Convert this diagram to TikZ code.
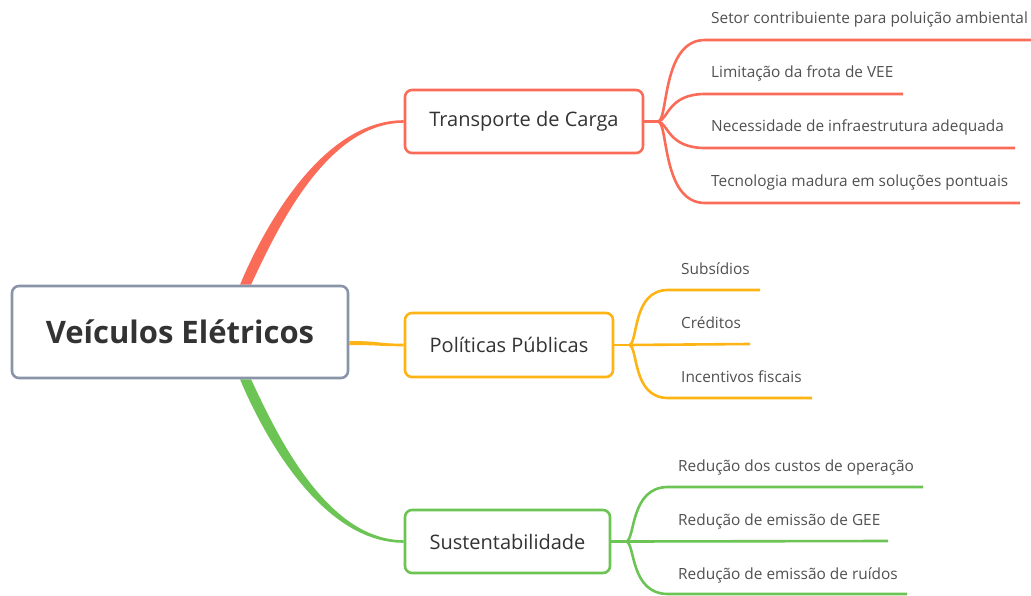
\documentclass[tikz,border=0pt]{standalone}
\usepackage{fontspec}
\setmainfont{Open Sans}
\usetikzlibrary{backgrounds}
\definecolor{cred}{RGB}{250,108,88}
\definecolor{corange}{RGB}{253,180,20}
\definecolor{cgreen}{RGB}{108,196,84}
\definecolor{cgray}{RGB}{138,148,168}
\definecolor{ctext}{RGB}{51,51,51}
\definecolor{citem}{RGB}{80,80,80}
\begin{document}
\begin{tikzpicture}[x=1pt,y=-1pt,
  rootbox/.style={draw=cgray,line width=2.6pt,rounded corners=7pt,fill=white,inner sep=0pt,
    minimum width=336pt,minimum height=92pt,font=\fontsize{31}{36}\selectfont\bfseries,text=ctext},
  topicbox/.style={line width=2.6pt,rounded corners=7pt,fill=white,inner sep=0pt,
    minimum height=63pt,font=\fontsize{20}{24}\selectfont,text=ctext},
  item/.style={anchor=base west,inner sep=0pt,font=\fontsize{15.4}{18}\selectfont,text=citem},
  branch/.style={line width=2.6pt},
]
\useasboundingbox (0,0) rectangle (1031,596);

% central and topic nodes
\node[rootbox] (root) at (180,332) {Veículos Elétricos};
\node[topicbox,draw=cred,minimum width=238pt] (tc) at (524,121.5) {Transporte de Carga};
\node[topicbox,draw=corange,minimum width=208pt,minimum height=64pt] (pp) at (509,345) {Políticas Públicas};
\node[topicbox,draw=cgreen,minimum width=205pt] (su) at (507.5,541.5) {Sustentabilidade};

% tapered main connectors
\begin{scope}[on background layer]
\fill[cred] ([xshift=60]root.north) .. controls +(20,-48) and +(-85,0) .. ([yshift=1.3]tc.west)
  -- ([yshift=-1.3]tc.west) .. controls +(-80,0) and +(22,-46) .. ([xshift=71]root.north) -- cycle;
\fill[cgreen] ([xshift=60]root.south) .. controls +(20,48) and +(-85,0) .. ([yshift=-1.3]su.west)
  -- ([yshift=1.3]su.west) .. controls +(-80,0) and +(22,46) .. ([xshift=71]root.south) -- cycle;
\fill[corange] ([yshift=-9]root.east) .. controls +(30,0) and +(-25,0) .. ([yshift=1.3]pp.west)
  -- ([yshift=-1.3]pp.west) .. controls +(-25,0) and +(30,0) .. ([yshift=-13]root.east) -- cycle;
\end{scope}

% Transporte de Carga branches
\coordinate (tj) at ([xshift=14]tc.east);
\coordinate (t1) at (1031,40);
\coordinate (t2) at (903,94);
\coordinate (t3) at (1015,148);
\coordinate (t4) at (1020,203);
\draw[branch,cred] (tc.east) -- (tj);
\draw[branch,cred] (tj) .. controls +(10,-2) and (662,40) .. (705,40) -- (t1);
\draw[branch,cred] (tj) .. controls +(10,-2) and (668,94) .. (705,94) -- (t2);
\draw[branch,cred] (tj) .. controls +(10,2) and (668,148) .. (705,148) -- (t3);
\draw[branch,cred] (tj) .. controls +(10,2) and (662,203) .. (705,203) -- (t4);
\node[item] (ti1) at (711,24) {Setor contribuiente para poluição ambiental};
\node[item] (ti2) at (711,78) {Limitação da frota de VEE};
\node[item] (ti3) at (711,132) {Necessidade de infraestrutura adequada};
\node[item] (ti4) at (711,187) {Tecnologia madura em soluções pontuais};

% Políticas Públicas branches
\coordinate (pj) at ([xshift=15]pp.east);
\coordinate (p1) at (760,290);
\coordinate (p2) at (750,344);
\coordinate (p3) at (812,398);
\draw[branch,corange] (pp.east) -- (pj);
\draw[branch,corange] (pj) .. controls +(9,-2) and (632,290) .. (668,290) -- (p1);
\draw[branch,corange] (pj) -- (p2);
\draw[branch,corange] (pj) .. controls +(9,2) and (632,398) .. (668,398) -- (p3);
\node[item] (pi1) at (681,274) {Subsídios};
\node[item] (pi2) at (681,328) {Créditos};
\node[item] (pi3) at (681,382) {Incentivos fiscais};

% Sustentabilidade branches
\coordinate (sj) at ([xshift=15]su.east);
\coordinate (s1) at (923,487);
\coordinate (s2) at (888,541);
\coordinate (s3) at (907,594);
\draw[branch,cgreen] (su.east) -- (sj);
\draw[branch,cgreen] (sj) .. controls +(9,-2) and (630,487) .. (668,487) -- (s1);
\draw[branch,cgreen] (sj) -- (s2);
\draw[branch,cgreen] (sj) .. controls +(9,2) and (630,594) .. (668,594) -- (s3);
\node[item] (si1) at (678,471) {Redução dos custos de operação};
\node[item] (si2) at (678,525) {Redução de emissão de GEE};
\node[item] (si3) at (678,579) {Redução de emissão de ruídos};
\end{tikzpicture}
\end{document}
